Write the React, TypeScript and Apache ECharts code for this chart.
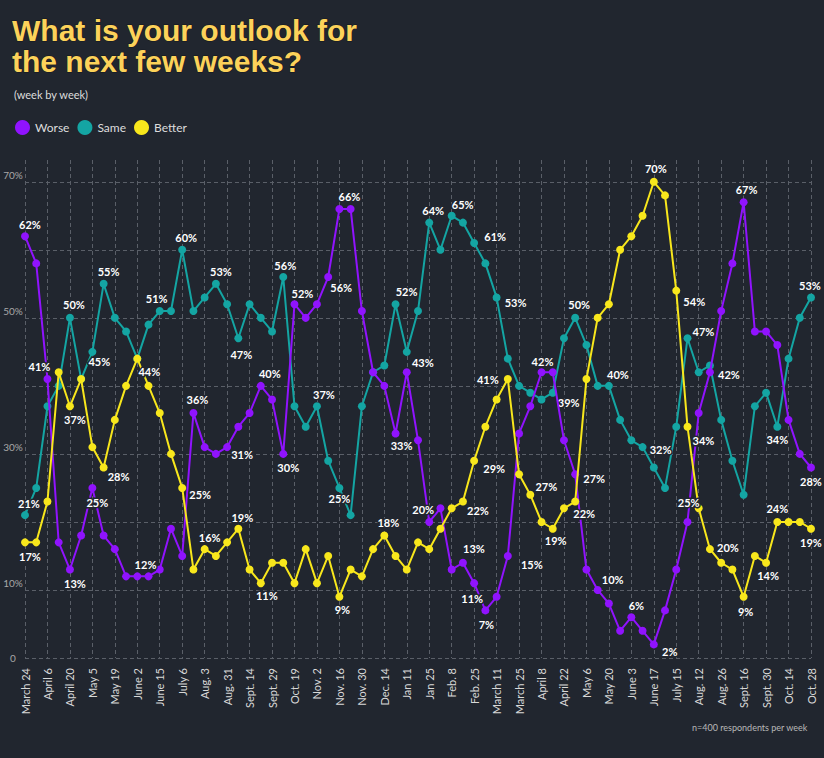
import React, { useEffect, useRef } from 'react';
import * as echarts from 'echarts';

const weekLabels = ['March 24','April 6','April 20','May 5','May 19','June 2','June 15','July 6','Aug. 3','Aug. 31','Sept. 14','Sept. 29','Oct. 19','Nov. 2','Nov. 16','Nov. 30','Dec. 14','Jan 11','Jan 25','Feb. 8','Feb. 25','March 11','March 25','April 8','April 22','May 6','May 20','June 3','June 17','July 15','Aug. 12','Aug. 26','Sept. 16','Sept. 30','Oct. 14','Oct. 28'];

const worse = [62,58,41,17,13,18,25,18,16,12, 12,12,13,19,15,36,31,30,31,34, 36,40,38,30,52,50,52,56,66,66, 51,42,40,33,42,32,20,22,13,14, 11,7,9,15,33,37,42,42,32,27, 13,10,8,4,6,4,2,7,13,20, 36,42,51,58,67,48,48,46,35,30, 28];
const same = [21,25,37,40,50,41,45,55,50,48, 44,49,51,51,60,51,53,55,52,47, 52,50,48,56,37,34,37,29,25,21, 37,42,43,52,45,51,64,60,65,64, 61,58,53,44,40,39,38,39,47,50, 46,40,40,35,32,31,28,25,34,47, 42,43,35,29,24,37,39,34,44,50, 53];
const better = [17,17,23,42,37,41,31,28,35,40, 44,40,36,30,25,13,16,15,17,19, 13,11,14,14,11,16,11,15,9,13, 12,16,18,15,13,17,16,19,22,23, 29,34,38,41,27,24,20,19,22,23, 41,50,52,60,62,65,70,68,54,34, 22,16,14,13,9,15,14,20,20,20, 19];

const yTickLabels = [0, 10, 30, 50, 70];

// point labels as printed on the chart: [index, text]
const worseLabels: [number, string][] = [[0,'62%'],[2,'41%'],[4,'13%'],[6,'25%'],[11,'12%'],[15,'36%'],[18,'31%'],[21,'40%'],[23,'30%'],[24,'52%'],[27,'56%'],[28,'66%'],[33,'33%'],[34,'43%'],[36,'20%'],[39,'13%'],[40,'11%'],[41,'7%'],[43,'15%'],[46,'42%'],[49,'27%'],[51,'10%'],[54,'6%'],[56,'2%'],[61,'42%'],[64,'67%'],[70,'28%']];
const sameLabels: [number, string][] = [[0,'21%'],[4,'50%'],[6,'45%'],[7,'55%'],[12,'51%'],[14,'60%'],[17,'53%'],[19,'47%'],[23,'56%'],[26,'37%'],[28,'25%'],[33,'52%'],[36,'64%'],[38,'65%'],[40,'61%'],[42,'53%'],[47,'39%'],[49,'50%'],[52,'40%'],[55,'32%'],[59,'47%'],[67,'34%'],[70,'53%']];
const betterLabels: [number, string][] = [[0,'17%'],[4,'37%'],[7,'28%'],[10,'44%'],[14,'25%'],[16,'16%'],[19,'19%'],[21,'11%'],[28,'9%'],[32,'18%'],[39,'22%'],[40,'29%'],[43,'41%'],[45,'27%'],[47,'19%'],[49,'22%'],[56,'70%'],[58,'54%'],[59,'34%'],[60,'25%'],[61,'20%'],[64,'9%'],[66,'14%'],[67,'24%'],[70,'19%']];

// label placement offsets (px) relative to the point
const worseOffsets: Record<number, [number, number]> = {0:[5,-12],2:[-8,-13],4:[5,14],6:[5,15],11:[-3,-12],15:[4,-14],18:[15,7],21:[9,-12],23:[5,14],24:[8,-11],27:[13,10],28:[10,-12],33:[6,12],34:[16,-10],36:[-6,-12],39:[11,-14],40:[-2,15],41:[1,14],43:[24,9],46:[1,-11],49:[19,4],51:[15,-10],54:[5,-12],56:[16,7],61:[19,2],64:[3,-13],70:[0,14]};
const sameOffsets: Record<number, [number, number]> = {0:[4,-12],4:[4,-13],6:[7,10],7:[5,-12],12:[-3,-13],14:[4,-12],17:[5,-12],19:[3,16],23:[2,-12],26:[7,-12],28:[0,11],33:[11,-13],36:[4,-12],38:[11,-11],40:[21,-7],42:[19,5],47:[16,10],49:[4,-13],52:[9,-11],55:[18,2],59:[16,-7],67:[0,13],70:[-1,-12]};
const betterOffsets: Record<number, [number, number]> = {0:[5,14],4:[5,13],7:[15,9],10:[12,13],14:[18,7],16:[5,-12],19:[4,-11],21:[6,12],28:[3,13],32:[4,-13],39:[15,9],40:[20,8],43:[-20,0],45:[16,-8],47:[3,12],49:[9,12],56:[2,-13],58:[18,11],59:[16,14],60:[-10,-6],61:[18,-2],64:[2,15],66:[2,13],67:[0,-13],70:[0,14]};

const BG = '#21262f';
const FONT = 'Lato, "Open Sans", sans-serif';
const COLORS = { worse: '#9013fe', same: '#14a5a3', better: '#f8e71c' };

function buildSeries(name: string, values: number[], color: string, labels: [number, string][], offsets: Record<number, [number, number]>, z: number) {
  const labelMap = new Map(labels);
  return {
    name,
    type: 'line',
    z,
    symbol: 'circle',
    symbolSize: 8,
    lineStyle: { width: 2, color },
    itemStyle: { color },
    emphasis: { disabled: true },
    label: {
      show: false,
      position: 'inside',
      color: '#ffffff',
      fontWeight: 'bold',
      fontSize: 11,
      fontFamily: FONT,
      textBorderColor: BG,
      textBorderWidth: 3,
      align: 'center',
      verticalAlign: 'middle',
    },
    data: values.map((v, i) => {
      const t = labelMap.get(i);
      if (t === undefined) return v;
      return { value: v, label: { show: true, formatter: t, offset: offsets[i] || [0, -12] } };
    }),
  };
}

export default function App() {
  const ref = useRef<HTMLDivElement>(null);
  useEffect(() => {
    document.body.style.margin = '0';
    document.body.style.background = BG;
    if (!ref.current) return;
    const chart = echarts.init(ref.current, null, { renderer: 'svg' });
    const categories: string[] = [];
    weekLabels.forEach((w, k) => {
      categories.push(w);
      if (k < weekLabels.length - 1) categories.push('');
    });
    chart.setOption({
      animation: false,
      backgroundColor: BG,
      title: [
        {
          text: 'What is your outlook for\nthe next few weeks?',
          left: 12,
          top: 15,
          padding: 0,
          textStyle: { color: '#fcd25a', fontSize: 30, fontWeight: 'bold', fontFamily: '"Liberation Sans", Arial, sans-serif', lineHeight: 31, textBorderColor: '#15181e', textBorderWidth: 1 },
        },
        {
          text: '(week by week)',
          left: 14,
          top: 89,
          padding: 0,
          textStyle: { color: '#dddddd', fontSize: 11, fontWeight: 'normal', fontFamily: FONT },
        },
        {
          text: 'n=400 respondents per week',
          left: 692,
          top: 723,
          padding: 0,
          textStyle: { color: '#b8b8b8', fontSize: 9, fontWeight: 'normal', fontFamily: FONT },
        },
      ],
      legend: {
        left: 15,
        top: 120,
        padding: 0,
        icon: 'circle',
        itemWidth: 15,
        itemHeight: 15,
        itemGap: 8,
        textStyle: { color: '#dddddd', fontSize: 12, fontFamily: FONT },
        data: ['Worse', 'Same', 'Better'],
      },
      grid: { left: 25, right: 13, top: 160, bottom: 100, containLabel: false },
      xAxis: {
        type: 'category',
        data: categories,
        boundaryGap: false,
        axisLine: { show: false },
        axisTick: { show: false },
        axisLabel: { interval: 0, rotate: 90, color: '#d8d8d8', fontSize: 11, fontFamily: FONT, margin: 10 },
        splitLine: { show: true, interval: (i: number) => i % 2 === 0, lineStyle: { color: '#5a5f68', type: [4, 3], width: 1 } },
      },
      yAxis: {
        type: 'value',
        min: 0,
        max: 73.2,
        interval: 10,
        axisLine: { show: false },
        axisTick: { show: false },
        axisLabel: {
          showMaxLabel: false,
          margin: 12,
          align: 'center',
          color: '#a8a8a8',
          fontSize: 10,
          fontFamily: FONT,
          formatter: (v: number) => (yTickLabels.includes(v) ? (v === 0 ? '{z|0}' : '{u|' + v + '%}') : ''),
          rich: {
            z: { fontSize: 10, color: '#a8a8a8', fontFamily: FONT },
            u: { fontSize: 10, color: '#a8a8a8', fontFamily: FONT, padding: [0, 0, 14, 0] },
          },
        },
        splitLine: { show: true, showMaxLine: false, lineStyle: { color: '#5a5f68', type: [4, 3], width: 1 } },
      },
      series: [
        buildSeries('Worse', worse, COLORS.worse, worseLabels, worseOffsets, 3),
        buildSeries('Same', same, COLORS.same, sameLabels, sameOffsets, 2),
        buildSeries('Better', better, COLORS.better, betterLabels, betterOffsets, 4),
      ],
    });
    return () => chart.dispose();
  }, []);
  return <div ref={ref} style={{ position: 'fixed', left: 0, top: 0, width: 824, height: 758 }} />;
}
